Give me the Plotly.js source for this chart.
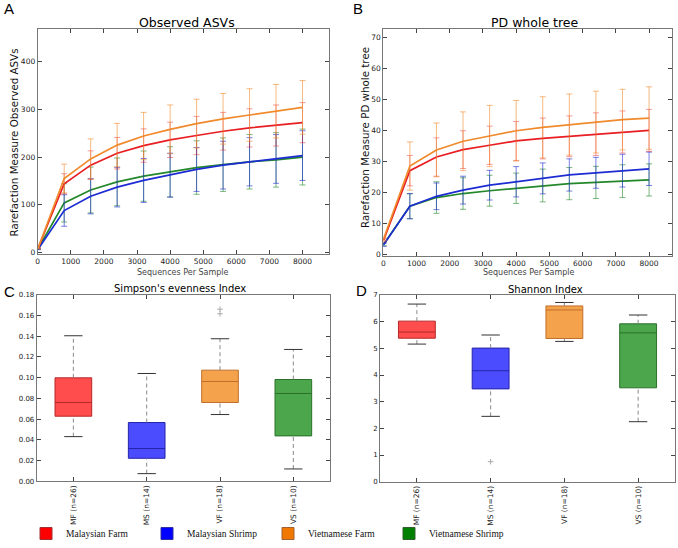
<!DOCTYPE html>
<html>
<head>
<meta charset="utf-8">
<script src="https://cdn.plot.ly/plotly-3.0.1.min.js"></script>
<style>html,body{margin:0;padding:0;background:#fff;}#chart{width:678px;height:548px;}</style>
</head>
<body>
<div id="chart"></div>
<script>
// ---------- DATA ----------
const groupNames = ["Malaysian Farm", "Malaysian Shrimp", "Vietnamese Farm", "Vietnamese Shrimp"];
const groupCodes = ["MF (n=26)", "MS (n=14)", "VF (n=18)", "VS (n=10)"];
const depths = [10, 800, 1600, 2400, 3200, 4000, 4800, 5600, 6400, 7200, 8000];

// Observed ASVs (mean, sd)
const asvMF = [9, 144, 183, 208, 224, 236, 245, 254, 261, 266, 272];
const asvMS = [7, 88, 118, 137, 151, 162, 174, 183, 190, 196, 203];
const asvVF = [9, 155, 196, 225, 244, 258, 270, 280, 288, 296, 304];
const asvVS = [8, 104, 131, 148, 160, 169, 178, 184, 190, 194, 200];
const asvMFsd = [1, 21, 30, 33, 35, 37, 40, 39.5, 40, 43, 42];
const asvMSsd = [1, 33, 37, 41.5, 46, 46, 46, 50, 50.5, 51, 52];
const asvVFsd = [1, 30, 42, 45.5, 49.5, 51, 51, 53, 55, 56, 56];
const asvVSsd = [1, 40, 48, 50, 52.6, 52.6, 56, 56, 57, 57, 58.5];

// PD whole tree (mean, sd)
const pdMF = [4.5, 27.0, 31.4, 33.8, 35.2, 36.6, 37.4, 38.1, 38.8, 39.5, 40.0];
const pdMS = [3.0, 15.5, 18.7, 20.7, 22.3, 23.4, 24.5, 25.6, 26.3, 27.0, 27.6];
const pdVF = [5.0, 28.5, 33.7, 36.5, 38.2, 39.9, 41.0, 41.9, 42.7, 43.5, 44.0];
const pdVS = [3.2, 15.5, 18.3, 19.6, 20.5, 21.3, 22.2, 22.8, 23.2, 23.6, 24.0];
const pdMFsd = [0.5, 4.9, 6.2, 6.1, 6.2, 6.3, 6.6, 6.6, 6.9, 6.8, 6.8];
const pdMSsd = [0.5, 4.1, 4.3, 4.5, 4.8, 4.9, 5.0, 5.2, 5.0, 5.3, 5.4];
const pdVFsd = [0.5, 7.8, 8.7, 9.5, 9.9, 9.8, 9.9, 9.9, 10.0, 9.8, 10.1];
const pdVSsd = [0.5, 4.0, 5.1, 5.1, 5.0, 4.9, 5.3, 5.2, 5.2, 5.3, 5.2];

// Simpson's evenness boxplot stats (MF, MS, VF, VS)
const simpsonLower  = [0.0431, 0.0074, 0.0644, 0.0119];
const simpsonQ1     = [0.0628, 0.0222, 0.0760, 0.0438];
const simpsonMedian = [0.0760, 0.0316, 0.0963, 0.0847];
const simpsonQ3     = [0.0998, 0.0567, 0.1072, 0.0982];
const simpsonUpper  = [0.1404, 0.1040, 0.1375, 0.1272];
const simpsonOutlierGroup = [2, 2];
const simpsonOutlierValue = [0.1616, 0.1660];

// Shannon boxplot stats
const shannonLower  = [5.16, 2.45, 5.26, 2.25];
const shannonQ1     = [5.38, 3.48, 5.37, 3.52];
const shannonMedian = [5.61, 4.16, 6.44, 5.58];
const shannonQ3     = [6.02, 5.01, 6.59, 5.92];
const shannonUpper  = [6.66, 5.50, 6.72, 6.25];
const shannonOutlierGroup = [1];
const shannonOutlierValue = [0.75];

// ---------- STYLE ----------
const lineColors = ["#e81e22", "#1c2cd2", "#f08a2c", "#23882a"];
const errColors = ["rgba(232,30,34,0.45)", "rgba(28,44,210,0.6)", "rgba(240,138,44,0.6)", "rgba(35,136,42,0.6)"];
const boxFill = ["rgba(255,0,0,0.7)", "rgba(0,0,255,0.7)", "rgba(240,122,0,0.7)", "rgba(0,128,0,0.7)"];
const boxLine = ["#b42828", "#2424a8", "#c0702c", "#2a702a"];
const legendColors = ["#ff0000", "#0000ff", "#f07800", "#008000"];
const legendEdge = ["#a03030", "#3030a0", "#a06030", "#306030"];

const W = 678, H = 548;
const px = v => v / W;
const py = v => 1 - v / H;

const traces = [];

function rarefaction(means, sds, xa, ya) {
  const order = [3, 1, 0, 2];
  order.forEach(i => {
    traces.push({
      type: "scatter", mode: "lines", x: depths, y: means[i],
      xaxis: xa, yaxis: ya, showlegend: false, hoverinfo: "skip",
      line: {color: lineColors[i], width: 1.7},
      error_y: {type: "data", array: sds[i], visible: true, color: errColors[i], thickness: 1, width: 3}
    });
  });
}
rarefaction([asvMF, asvMS, asvVF, asvVS], [asvMFsd, asvMSsd, asvVFsd, asvVSsd], "x", "y");
rarefaction([pdMF, pdMS, pdVF, pdVS], [pdMFsd, pdMSsd, pdVFsd, pdVSsd], "x2", "y2");

function boxes(lower, q1, med, q3, upper, outG, outV, xa, ya) {
  const wx = [], wy = [], cx = [], cy = [];
  for (let i = 0; i < q1.length; i++) {
    wx.push(i, i, null, i, i, null);
    wy.push(lower[i], q1[i], null, q3[i], upper[i], null);
    cx.push(i - 0.125, i + 0.125, null, i - 0.125, i + 0.125, null);
    cy.push(lower[i], lower[i], null, upper[i], upper[i], null);
  }
  traces.push({type: "scatter", mode: "lines", x: wx, y: wy, xaxis: xa, yaxis: ya, showlegend: false,
    hoverinfo: "skip", line: {color: "#8a8a8a", width: 1, dash: "4px,3px"}});
  traces.push({type: "scatter", mode: "lines", x: cx, y: cy, xaxis: xa, yaxis: ya, showlegend: false,
    hoverinfo: "skip", line: {color: "#333", width: 1}});
  for (let i = 0; i < q1.length; i++) {
    traces.push({
      type: "box", orientation: "v", x: [i], q1: [q1[i]], median: [med[i]], q3: [q3[i]],
      lowerfence: [q1[i]], upperfence: [q3[i]], width: 0.5, whiskerwidth: 0,
      boxpoints: false, fillcolor: boxFill[i], line: {color: boxLine[i], width: 1},
      xaxis: xa, yaxis: ya, showlegend: false, hoverinfo: "skip"
    });
  }
  traces.push({type: "scatter", mode: "markers", x: outG, y: outV, xaxis: xa, yaxis: ya, showlegend: false,
    hoverinfo: "skip", marker: {symbol: "cross-thin", size: 4, line: {color: "#aaa", width: 1}}});
}
boxes(simpsonLower, simpsonQ1, simpsonMedian, simpsonQ3, simpsonUpper, simpsonOutlierGroup, simpsonOutlierValue, "x3", "y3");
boxes(shannonLower, shannonQ1, shannonMedian, shannonQ3, shannonUpper, shannonOutlierGroup, shannonOutlierValue, "x4", "y4");

// legend entries
groupNames.forEach((n, i) => {
  traces.push({type: "bar", x: [null], y: [null], name: n, xaxis: "x", yaxis: "y",
    marker: {color: legendColors[i], line: {color: legendEdge[i], width: 1}}, showlegend: true});
});

const tickFont = {family: "DejaVu Sans", size: 7.5, color: "#222"};
const axBase = {showline: true, linecolor: "#777", linewidth: 1, mirror: "allticks", ticks: "inside",
  ticklen: 4, tickcolor: "#444", showgrid: false, zeroline: false, tickfont: tickFont, fixedrange: true};
const catFont = {family: "DejaVu Sans", size: 7.5, color: "#222"};
const yFont = {family: "DejaVu Sans", size: 7, color: "#222"};

const layout = {
  width: W, height: H, margin: {l: 0, r: 0, t: 0, b: 0},
  paper_bgcolor: "#fff", plot_bgcolor: "#fff", boxmode: "overlay",
  font: {family: "DejaVu Sans"},
  xaxis: Object.assign({}, axBase, {domain: [px(37.7), px(329)], range: [0, 8800], tickvals: [0,1000,2000,3000,4000,5000,6000,7000,8000], anchor: "y"}),
  yaxis: Object.assign({}, axBase, {domain: [py(254), py(29)], range: [-3, 468], tickvals: [0,100,200,300,400], anchor: "x"}),
  xaxis2: Object.assign({}, axBase, {domain: [px(383.3), px(672.3)], range: [0, 8700], tickvals: [0,1000,2000,3000,4000,5000,6000,7000,8000], anchor: "y2"}),
  yaxis2: Object.assign({}, axBase, {domain: [py(256), py(29.3)], range: [-0.6, 72.7], tickvals: [0,10,20,30,40,50,60,70], anchor: "x2"}),
  xaxis3: Object.assign({}, axBase, {domain: [px(36.7), px(330)], range: [-0.5, 3.5], tickvals: [0,1,2,3], ticktext: groupCodes, tickangle: -90, anchor: "y3", tickfont: catFont}),
  yaxis3: Object.assign({}, axBase, {domain: [py(481.3), py(294.7)], range: [0, 0.18], dtick: 0.02, tickformat: ".2f", anchor: "x3", tickfont: yFont}),
  xaxis4: Object.assign({}, axBase, {domain: [px(380), px(675)], range: [-0.5, 3.5], tickvals: [0,1,2,3], ticktext: groupCodes, tickangle: -90, anchor: "y4", tickfont: catFont}),
  yaxis4: Object.assign({}, axBase, {domain: [py(481.7), py(295)], range: [0, 7], dtick: 1, anchor: "x4", tickfont: yFont}),
  showlegend: true,
  legend: {orientation: "h", x: px(26), xanchor: "left", y: 0, yanchor: "bottom",
    font: {family: "Liberation Serif", size: 9.5, color: "#111"}, entrywidth: 76, entrywidthmode: "pixels",
    bgcolor: "rgba(0,0,0,0)", itemclick: false, itemdoubleclick: false},
  annotations: [
    {text: "A", x: px(2), y: py(8.5), xanchor: "left", yanchor: "middle", font: {family: "Liberation Sans", size: 15, color: "#000"}},
    {text: "B", x: px(351), y: py(8.5), xanchor: "left", yanchor: "middle", font: {family: "Liberation Sans", size: 15, color: "#000"}},
    {text: "C", x: px(1.5), y: py(291), xanchor: "left", yanchor: "middle", font: {family: "Liberation Sans", size: 15, color: "#000"}},
    {text: "D", x: px(354), y: py(290), xanchor: "left", yanchor: "middle", font: {family: "Liberation Sans", size: 15, color: "#000"}},
    {text: "Observed ASVs", x: px(187), y: py(22.5), xanchor: "center", yanchor: "middle", font: {family: "DejaVu Sans", size: 12.5, color: "#000"}},
    {text: "PD whole tree", x: px(535), y: py(22.5), xanchor: "center", yanchor: "middle", font: {family: "DejaVu Sans", size: 12.5, color: "#000"}},
    {text: "Simpson's evenness Index", x: px(179.5), y: py(288.5), xanchor: "center", yanchor: "middle", font: {family: "DejaVu Sans", size: 10, color: "#000"}},
    {text: "Shannon Index", x: px(545), y: py(289), xanchor: "center", yanchor: "middle", font: {family: "DejaVu Sans", size: 10, color: "#000"}},
    {text: "Rarefaction Measure Observed ASVs", x: px(13), y: py(142.5), xanchor: "center", yanchor: "middle", textangle: -90, font: {family: "DejaVu Sans", size: 10.3, color: "#111"}},
    {text: "Rarefaction Measure PD whole tree", x: px(365), y: py(138), xanchor: "center", yanchor: "middle", textangle: -90, font: {family: "DejaVu Sans", size: 10.3, color: "#111"}},
    {text: "Sequences Per Sample", x: px(183), y: py(273), xanchor: "center", yanchor: "middle", font: {family: "DejaVu Sans", size: 8, color: "#444"}},
    {text: "Sequences Per Sample", x: px(529), y: py(273), xanchor: "center", yanchor: "middle", font: {family: "DejaVu Sans", size: 8, color: "#444"}}
  ].map(a => Object.assign({xref: "paper", yref: "paper", showarrow: false}, a))
};

Plotly.newPlot("chart", traces, layout, {displayModeBar: false, staticPlot: true});
</script>
</body>
</html>
